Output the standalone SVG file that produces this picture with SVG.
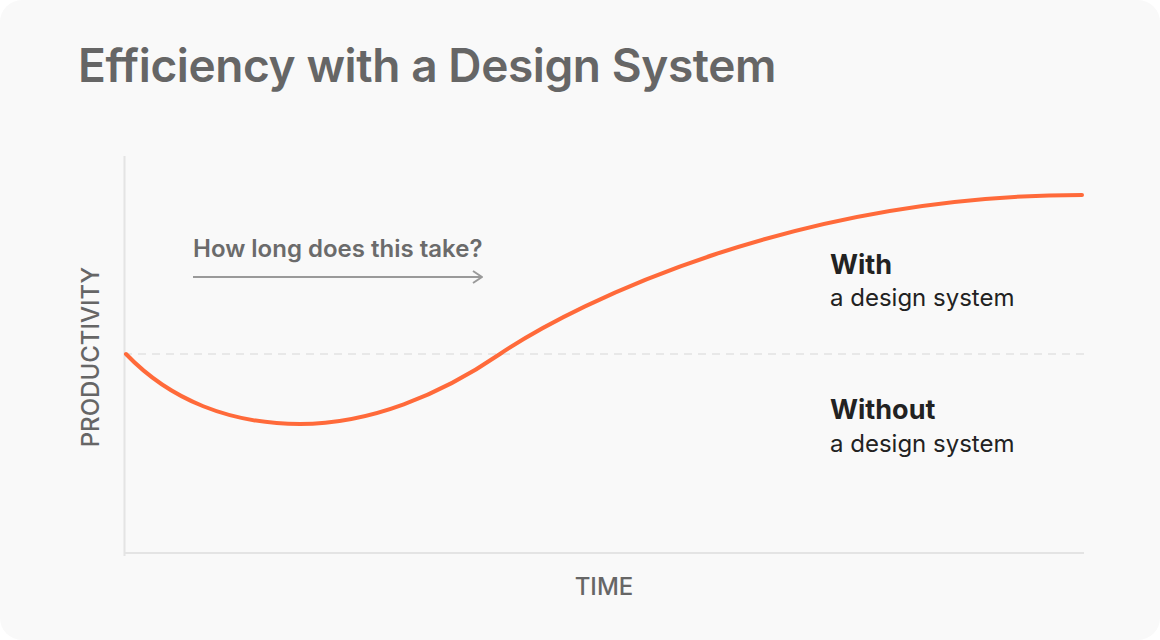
<svg xmlns="http://www.w3.org/2000/svg" width="1160" height="640" viewBox="0 0 1160 640">
  <defs>
    <style>
      text { font-family: Inter, "Noto Sans", "Liberation Sans", sans-serif; }
      .title { font-size: 46px; font-weight: 600; fill: #666666; letter-spacing: -0.4px; }
      .axislabel { font-size: 24px; font-weight: 500; fill: #666666; }
      .note { font-size: 24px; font-weight: 600; fill: #6b6b6b; }
      .head { font-size: 27px; font-weight: 700; fill: #222222; }
      .sub { font-size: 24px; font-weight: 400; fill: #222222; }
      .axis { stroke: #e4e4e4; stroke-width: 2; fill: none; }
      .base { stroke: #e2e2e2; stroke-width: 1.5; stroke-dasharray: 8 6; fill: none; }
      .curve { stroke: #ff6a3a; stroke-width: 4; fill: none; stroke-linecap: round; }
      .arrow { stroke: #9a9a9a; stroke-width: 2; fill: none; }
    </style>
    <marker id="chev" viewBox="0 0 12 14" refX="11" refY="7" markerWidth="12" markerHeight="14" markerUnits="userSpaceOnUse" orient="auto">
      <path d="M2,1 L11,7 L2,13" fill="none" stroke="#9a9a9a" stroke-width="2" stroke-linejoin="round"/>
    </marker>
  </defs>
  <rect x="0" y="0" width="1160" height="640" fill="#ffffff"/>
  <rect id="card" x="0" y="0" width="1160" height="640" rx="22" fill="#f9f9f9"/>
  <g id="title">
    <text class="title" x="78" y="82">Efficiency with a Design System</text>
  </g>
  <g id="axes">
    <line class="axis" x1="124.5" y1="156" x2="124.5" y2="556"/>
    <line class="axis" x1="124" y1="553" x2="1084" y2="553"/>
    <line class="base" x1="124" y1="354" x2="1084" y2="354"/>
  </g>
  <g id="y-label">
    <text class="axislabel" transform="translate(99,357) rotate(-90)" text-anchor="middle">PRODUCTIVITY</text>
  </g>
  <g id="x-label">
    <text class="axislabel" x="604" y="595" text-anchor="middle">TIME</text>
  </g>
  <g id="connectors">
    <path class="curve" d="M126,354 C170,400 230,424 300,424 C370,424 440,395 500,354 C580,300 800,195 1082,195"/>
    <line class="arrow" x1="193" y1="277" x2="482" y2="277" marker-end="url(#chev)"/>
  </g>
  <g id="question">
    <text class="note" x="193" y="257">How long does this take?</text>
  </g>
  <g id="with">
    <text class="head" x="830" y="274">With</text>
    <text class="sub" x="830" y="306">a design system</text>
  </g>
  <g id="without">
    <text class="head" x="830" y="419">Without</text>
    <text class="sub" x="830" y="452">a design system</text>
  </g>
</svg>
